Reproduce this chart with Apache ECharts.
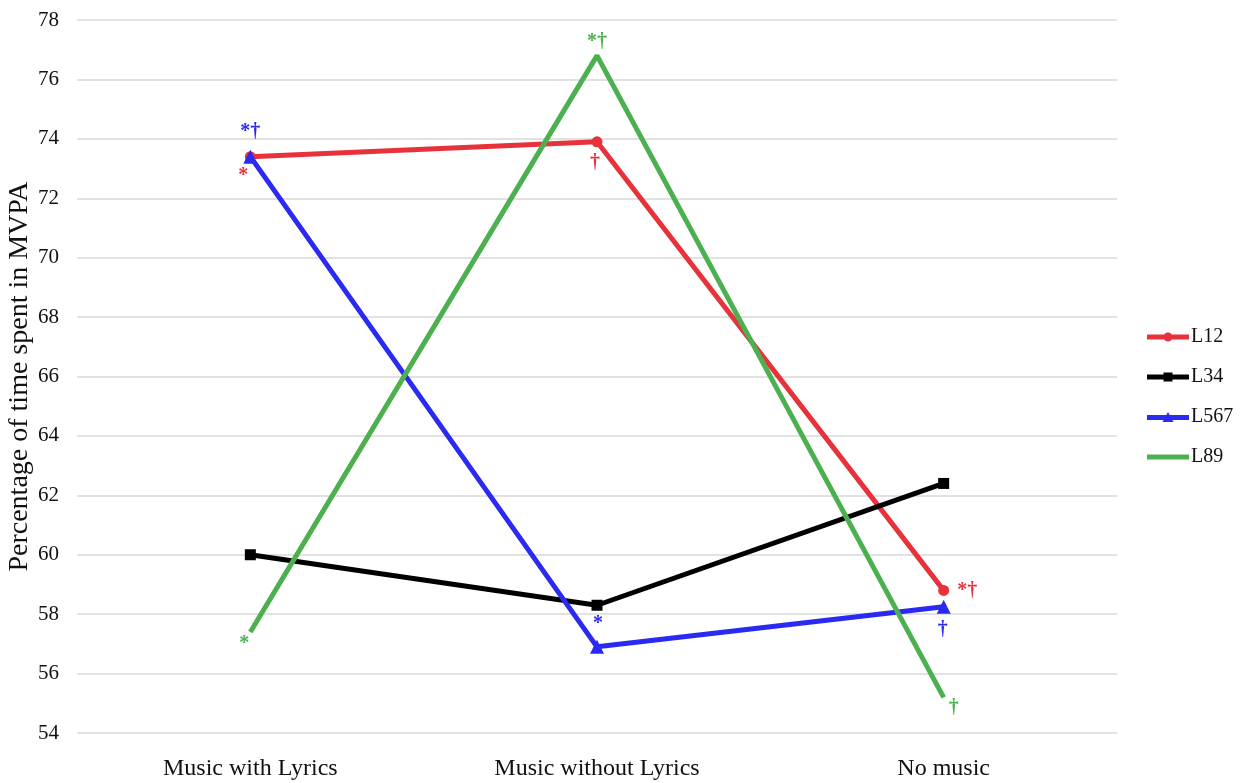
<!DOCTYPE html>
<html>
<head>
<meta charset="utf-8">
<script src="https://cdn.jsdelivr.net/npm/echarts@6/dist/echarts.min.js"></script>
<style>
  html, body { margin: 0; padding: 0; background: #fff; }
  #chart { width: 1244px; height: 783px; }
</style>
</head>
<body>
<div id="chart"></div>
<script>
// Conditions and group means (% of time in MVPA)
const categories = ['Music with Lyrics', 'Music without Lyrics', 'No music'];
const L12 = [73.4, 73.9, 58.8];
const L34 = [60.0, 58.3, 62.4];
const L567 = [73.4, 56.9, 58.25];
const L89 = [57.4, 76.8, 55.2];

// Significance marks shown beside each point
const L12Marks = ['*', '†', '*†'];
const L34Marks = ['', '', ''];
const L567Marks = ['*†', '*', '†'];
const L89Marks = ['*', '*†', '†'];

const yTicks = { min: 54, max: 78, interval: 2 };

const FONT = '"Liberation Serif", "DejaVu Serif", serif';

function points(values, marks, color, placements) {
  return values.map((v, i) => {
    const p = placements[i] || {};
    return {
      value: v,
      label: {
        show: !!marks[i],
        formatter: marks[i],
        color: color,
        fontSize: 20,
        fontWeight: 'bold',
        fontFamily: FONT,
        position: p.position || 'top',
        distance: p.distance != null ? p.distance : 4,
        offset: p.offset || [0, 0]
      }
    };
  });
}

function series(name, values, marks, color, symbol, size, placements) {
  return {
    name: name,
    type: 'line',
    data: points(values, marks, color, placements),
    symbol: symbol,
    symbolSize: size,
    showSymbol: true,
    lineStyle: { color: color, width: 5 },
    itemStyle: { color: color },
    emphasis: { disabled: true },
    z: 2
  };
}

// Legend keys: thick line with a small marker, plain line for L89
const bar = 'M0,4 L42,4 L42,9 L0,9 Z';
const legendIcons = {
  L12: 'path://' + bar + ' M21,2 A4.5,4.5 0 1,1 20.99,2 Z',
  L34: 'path://' + bar + ' M16.5,2 L25.5,2 L25.5,11 L16.5,11 Z',
  L567: 'path://' + bar + ' M21,1 L26.5,11 L15.5,11 Z',
  L89: 'path://' + bar
};

const chart = echarts.init(document.getElementById('chart'), null, { renderer: 'canvas' });

chart.setOption({
  animation: false,
  backgroundColor: '#ffffff',
  grid: { left: 77, right: 127, top: 20, bottom: 50, containLabel: false, outerBoundsMode: 'none' },
  legend: {
    orient: 'vertical',
    left: 1142,
    top: 322,
    itemGap: 20,
    itemWidth: 42,
    itemHeight: 13,
    textStyle: { fontFamily: FONT, fontSize: 20, color: '#111', padding: [0, 0, 0, -3] },
    data: ['L12', 'L34', 'L567', 'L89'].map(n => ({ name: n, icon: legendIcons[n] }))
  },
  xAxis: {
    type: 'category',
    data: categories,
    boundaryGap: true,
    axisLine: { show: false },
    axisTick: { show: false },
    axisLabel: { fontFamily: FONT, fontSize: 24, color: '#111', margin: 24 }
  },
  yAxis: {
    type: 'value',
    min: yTicks.min,
    max: yTicks.max,
    interval: yTicks.interval,
    name: 'Percentage of time spent in MVPA',
    nameLocation: 'middle',
    nameGap: 43,
    nameMoveOverlap: false,
    nameRotate: 90,
    nameTextStyle: { fontFamily: FONT, fontSize: 28, color: '#111' },
    axisLine: { show: false },
    axisTick: { show: false },
    axisLabel: { fontFamily: FONT, fontSize: 21, color: '#111', margin: 18 },
    splitLine: { lineStyle: { color: '#d9d9d9', width: 1.5 } }
  },
  series: [
    series('L12', L12, L12Marks, '#e8323b', 'circle', 11, [
      { position: 'bottom', distance: 4, offset: [-7, 0] },
      { position: 'bottom', distance: 6, offset: [-2, 0] },
      { position: 'right', distance: 8, offset: [0, 0] }
    ]),
    series('L34', L34, L34Marks, '#000000', 'rect', 11, [{}, {}, {}]),
    series('L567', L567, L567Marks, '#2a2af2', 'triangle', 14, [
      { position: 'top', distance: 8, offset: [0, 0] },
      { position: 'top', distance: 6, offset: [1, 0] },
      { position: 'bottom', distance: 6, offset: [-1, 0] }
    ]),
    series('L89', L89, L89Marks, '#4caf50', 'circle', 0.1, [
      { position: 'bottom', distance: 2, offset: [-6, 0] },
      { position: 'top', distance: 4, offset: [0, 0] },
      { position: 'bottom', distance: 0, offset: [10, 0] }
    ])
  ]
});
</script>
</body>
</html>
